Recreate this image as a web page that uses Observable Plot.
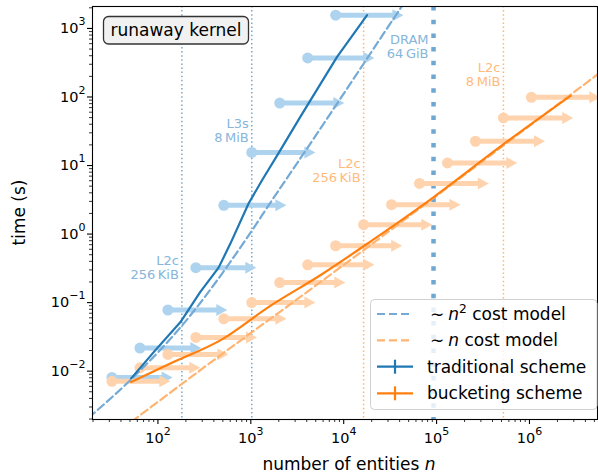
<!DOCTYPE html>
<html>
<head>
<meta charset="utf-8">
<script src="https://cdn.jsdelivr.net/npm/d3@7"></script>
<script src="https://cdn.jsdelivr.net/npm/@observablehq/plot@0.6"></script>
<style>
  body { margin: 0; background: #fff; }
  #chart { width: 598px; height: 476px; }
</style>
</head>
<body>
<div id="chart"></div>
<script>
// ---- measured runs: problem size n (entities) and wall time (s) ----
const tradN     = [32, 64, 128, 256, 512, 1024, 2048, 4096, 8192];
const tradTime  = [0.0081, 0.0217, 0.078, 0.323, 2.63, 15.5, 81.6, 371, 1563];
const tradReach = [144, 293, 558, 1146, 2415, 4955, 10160, 21400, 44000];

const buckN     = [32, 64, 128, 256, 512, 1024, 2048, 4096, 8192, 16384, 32768,
                   65536, 131072, 262144, 524288, 1048576];
const buckTime  = [0.0071, 0.0112, 0.0175, 0.031, 0.058, 0.100, 0.196, 0.356,
                   0.675, 1.37, 2.68, 5.48, 10.9, 22.6, 49.5, 99];
const buckReach = [136, 286, 573, 1167, 2415, 4955, 10400, 21400, 42600, 89800,
                   181000, 365000, 739000, 1.47e6, 2.96e6, 5.8e6];

// ---- scheme curves ----
const tradLineN = [51.5, 93.5, 174, 286, 450, 601, 946, 1321, 2028, 3410, 8485, 17860];
const tradLineT = [0.00785, 0.0201, 0.0515, 0.143, 0.324, 0.72, 2.79, 6.1, 15.8, 51.2, 384, 1563];
const buckLineN = [51.5, 153, 469, 1622, 5606, 20230, 93300, 509000, 2.77e6];
const buckLineT = [0.00694, 0.0139, 0.0281, 0.0897, 0.2506, 0.809, 3.47, 19.8, 103.8];

// ---- cost models ----
const sqModelN  = [18, 54.6, 189, 873, 1691, 4375, 16450, 40800, 46000];
const sqModelT  = [0.0021, 0.0082, 0.0493, 0.81, 3.11, 20.9, 308, 1958, 2490];
const linModelN = [52, 469, 3410, 20230, 5.56e6, 6.2e6];
const linModelT = [0.00183, 0.0170, 0.121, 0.72, 220, 246];

// ---- memory-hierarchy limits ----
const tradCacheN     = [181, 1024];
const tradCacheLabel = ["L2c\n256\u2009KiB", "L3s\n8\u2009MiB"];
const tradCacheAt    = [0.32, 32.7];
const dramN          = [92682];
const dramLabel      = ["DRAM\n64\u2009GiB"];
const dramAt         = [552];
const buckCacheN     = [16384, 524288];
const buckCacheLabel = ["L2c\n256\u2009KiB", "L2c\n8\u2009MiB"];
const buckCacheAt    = [8.5, 215];

// ---- axes ----
const xMajorTicks = [1e2, 1e3, 1e4, 1e5, 1e6];
const yMajorTicks = [1e-2, 1e-1, 1e0, 1e1, 1e2, 1e3];

const W = 598, H = 476;
const M = {top: 6, right: 1, bottom: 57, left: 92};
const xDomain = [19.75, 5.4e6];
const yDomain = [1.97e-3, 2.09e3];

const blue = "#1f77b4", orange = "#ff7f0e";
const blueMark = "#aed3ef", orangeMark = "#ffd3ad";
const blueSoft = "#74aad5", orangeSoft = "#ffb472";
const blueLabel = "#86b6da", orangeLabel = "#ffba7e";

const minorTicks = (lo, hi) => {
  const out = [];
  for (let e = Math.floor(Math.log10(lo)); e <= Math.ceil(Math.log10(hi)); e++)
    for (let m = 2; m <= 9; m++) {
      const v = m * 10 ** e;
      if (v >= lo && v <= hi) out.push(v);
    }
  return out;
};

// arrow shafts stop where the arrowhead begins (head is 11px long)
const pxPerDecade = (W - M.left - M.right) / Math.log10(xDomain[1] / xDomain[0]);
const headBack = 10 ** (-10 / pxPerDecade);
const arrowHead = {
  draw(ctx) {
    ctx.moveTo(0, 0);
    ctx.lineTo(-11, -6);
    ctx.lineTo(-11, 6);
    ctx.closePath();
  }
};

function markerSet(ns, ts, reach, fill) {
  const idx = ns.map((_, i) => i);
  return [
    Plot.link(idx, {x1: i => ns[i], x2: i => reach[i] * headBack, y1: i => ts[i], y2: i => ts[i],
                    stroke: fill, strokeWidth: 5, strokeLinecap: "butt", clip: true}),
    Plot.dot(idx, {x: i => reach[i], y: i => ts[i], symbol: arrowHead, fill, stroke: "none", clip: true}),
    Plot.dot(idx, {x: i => ns[i], y: i => ts[i], r: 5.5, fill, stroke: "none"})
  ];
}

function cacheLabels(ns, labels, at, fill, dx) {
  const idx = ns.map((_, i) => i);
  return Plot.text(idx, {x: i => ns[i], y: i => at[i], text: i => labels[i], fill,
                         textAnchor: "end", lineAnchor: "middle", dx, fontSize: 13, lineHeight: 1.08});
}

const fmt = d => "10^" + String(Math.round(Math.log10(d))).replace("-", "\u2212");
const line = (ns, ts) => ns.map((n, i) => ({n, t: ts[i]}));

const svg = Plot.plot({
  width: W, height: H,
  marginTop: M.top, marginRight: M.right, marginBottom: M.bottom, marginLeft: M.left,
  style: {fontFamily: "DejaVu Sans, sans-serif", fontSize: "14.5px", color: "#000", background: "#fff"},
  x: {type: "log", domain: xDomain},
  y: {type: "log", domain: yDomain},
  marks: [
    Plot.ruleX(tradCacheN, {stroke: blueSoft, strokeWidth: 1.5, strokeDasharray: "1.5,2.6"}),
    Plot.ruleX(buckCacheN, {stroke: orangeSoft, strokeWidth: 1.5, strokeDasharray: "1.5,2.6"}),
    Plot.ruleX(dramN, {stroke: "#6fa7d3", strokeWidth: 4.5, strokeDasharray: "4.5,9.2"}),
    cacheLabels(tradCacheN, tradCacheLabel, tradCacheAt, blueLabel, -3),
    cacheLabels(dramN, dramLabel, dramAt, blueLabel, -5),
    cacheLabels(buckCacheN, buckCacheLabel, buckCacheAt, orangeLabel, -3),
    ...markerSet(tradN, tradTime, tradReach, blueMark),
    ...markerSet(buckN, buckTime, buckReach, orangeMark),
    Plot.line(line(sqModelN, sqModelT), {x: "n", y: "t", stroke: blueSoft, strokeWidth: 2.2,
                                          strokeDasharray: "8,4", curve: "monotone-x", clip: true}),
    Plot.line(line(linModelN, linModelT), {x: "n", y: "t", stroke: orangeSoft, strokeWidth: 2.2,
                                            strokeDasharray: "8,4", curve: "monotone-x", clip: true}),
    Plot.line(line(tradLineN, tradLineT), {x: "n", y: "t", stroke: blue, strokeWidth: 2.2}),
    Plot.line(line(buckLineN, buckLineT), {x: "n", y: "t", stroke: orange, strokeWidth: 2.2, curve: "monotone-x"}),
    Plot.frame({stroke: "#000", strokeWidth: 1.1}),
    Plot.axisX({ticks: minorTicks(xDomain[0], xDomain[1]), tickSize: 3, tickFormat: () => "", label: null, strokeWidth: 0.8}),
    Plot.axisX({ticks: xMajorTicks, tickSize: 5, tickPadding: 8.5, tickFormat: fmt, label: null, strokeWidth: 1.1}),
    Plot.axisY({ticks: minorTicks(yDomain[0], yDomain[1]), tickSize: 3, tickFormat: () => "", label: null, strokeWidth: 0.8}),
    Plot.axisY({ticks: yMajorTicks, tickSize: 5, tickPadding: 2, tickFormat: fmt, label: null, strokeWidth: 1.1})
  ]
});

const root = d3.select(svg);

// powers of ten as 10 with a raised exponent
root.selectAll("text").each(function () {
  const m = /^10\^(.+)$/.exec(this.textContent);
  if (!m) return;
  const t = d3.select(this);
  t.text("");
  t.append("tspan").text("10");
  t.append("tspan").attr("dy", -8).attr("font-size", "0.76em").text(m[1]);
});

const FONT = "DejaVu Sans, sans-serif";

// axis titles
root.append("text")
  .attr("transform", "translate(24.5,212.5) rotate(-90)")
  .attr("text-anchor", "middle").attr("font-family", FONT).attr("font-size", 17)
  .attr("fill", "#000").text("time (s)");
const xl = root.append("text")
  .attr("x", 349).attr("y", 470).attr("text-anchor", "middle")
  .attr("font-family", FONT).attr("font-size", 17).attr("fill", "#000");
xl.append("tspan").text("number of entities ");
xl.append("tspan").attr("font-style", "italic").text("n");

// kernel tag
const tag = root.append("g");
tag.append("rect").attr("x", 103.5).attr("y", 16.5).attr("width", 145).attr("height", 27.5)
  .attr("rx", 5).attr("fill", "#f1f1f1").attr("stroke", "#333").attr("stroke-width", 1.3);
tag.append("text").attr("x", 176).attr("y", 35.5).attr("text-anchor", "middle")
  .attr("font-family", FONT).attr("font-size", 17).attr("fill", "#000").text("runaway kernel");

// legend
const lg = root.append("g").attr("text-anchor", "start");
lg.append("rect").attr("x", 370.5).attr("y", 299.5).attr("width", 226.5).attr("height", 110)
  .attr("rx", 4).attr("fill", "#fff").attr("fill-opacity", 0.82)
  .attr("stroke", "#d0d0d0").attr("stroke-width", 1);
const rows = [314, 340.3, 366.7, 393.3];
const handles = [
  {stroke: blueSoft, dash: "8,4", bar: false},
  {stroke: orangeSoft, dash: "8,4", bar: false},
  {stroke: blue, dash: null, bar: true},
  {stroke: orange, dash: null, bar: true}
];
handles.forEach((h, i) => {
  const y = rows[i];
  lg.append("line").attr("x1", 377).attr("x2", 413).attr("y1", y).attr("y2", y)
    .attr("stroke", h.stroke).attr("stroke-width", 2.2).attr("stroke-dasharray", h.dash);
  if (h.bar) lg.append("line").attr("x1", 395).attr("x2", 395).attr("y1", y - 7).attr("y2", y + 7)
    .attr("stroke", h.stroke).attr("stroke-width", 2.2);
});
const legendText = (y) => lg.append("text").attr("x", 427).attr("y", y + 6)
  .attr("text-anchor", "start")
  .attr("font-family", FONT).attr("font-size", 17).attr("fill", "#000");
{
  const t = legendText(rows[0]);
  t.append("tspan").attr("dx", 3).text("\u223C");
  t.append("tspan").attr("dx", 4).attr("font-style", "italic").text("n");
  t.append("tspan").attr("dy", -7).attr("font-size", "0.72em").text("2");
  t.append("tspan").attr("dy", 7).text(" cost model");
}
{
  const t = legendText(rows[1]);
  t.append("tspan").attr("dx", 3).text("\u223C");
  t.append("tspan").attr("dx", 4).attr("font-style", "italic").text("n");
  t.append("tspan").text(" cost model");
}
legendText(rows[2]).text("traditional scheme");
legendText(rows[3]).text("bucketing scheme");

document.getElementById("chart").appendChild(svg);
</script>
</body>
</html>
